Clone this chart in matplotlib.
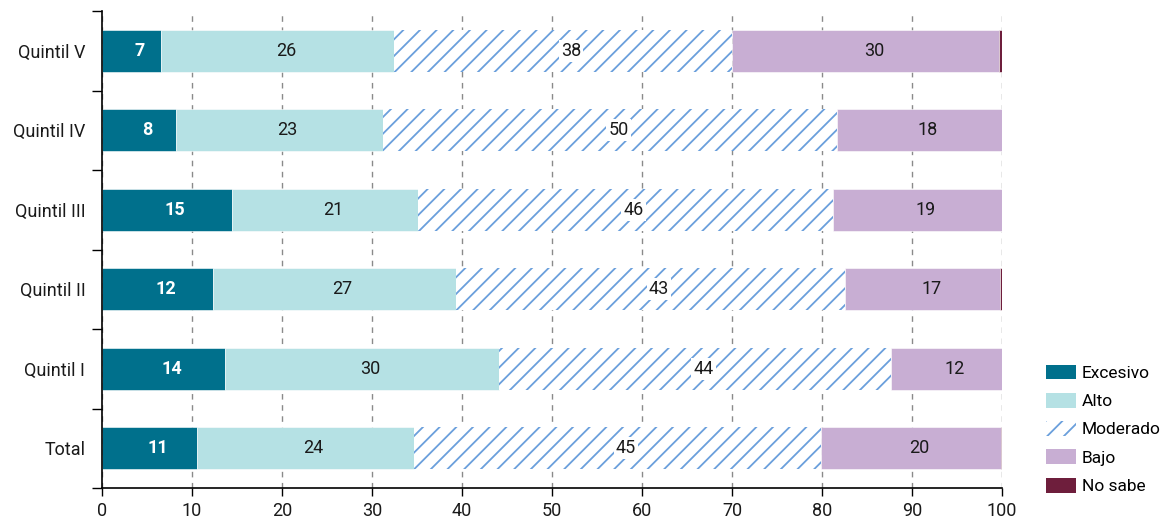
import matplotlib
matplotlib.use("Agg")
import matplotlib.pyplot as plt
import numpy as np
from matplotlib.patches import Patch

plt.rcParams['font.family'] = ['Roboto', 'DejaVu Sans']
plt.rcParams['hatch.linewidth'] = 1.3

categories = ["Total", "Quintil I", "Quintil II", "Quintil III", "Quintil IV", "Quintil V"]
series_names = ["Excesivo", "Alto", "Moderado", "Bajo", "No sabe"]
excesivo = [10.5, 13.7, 12.3, 14.4, 8.2, 6.6]
alto = [24.2, 30.4, 27.0, 20.7, 23.0, 25.8]
moderado = [45.2, 43.6, 43.3, 46.1, 50.5, 37.6]
bajo = [20.0, 12.3, 17.2, 18.8, 18.3, 29.7]
no_sabe = [0.2, 0.0, 0.2, 0.0, 0.0, 0.3]
labels_excesivo = ["11", "14", "12", "15", "8", "7"]
labels_alto = ["24", "30", "27", "21", "23", "26"]
labels_moderado = ["45", "44", "43", "46", "50", "38"]
labels_bajo = ["20", "12", "17", "19", "18", "30"]
x_ticks = list(range(0, 101, 10))

colors = {"Excesivo": "#00708c", "Alto": "#b5e1e4", "Moderado": "#6a9fdc",
          "Bajo": "#c8aed3", "No sabe": "#6e1e3c"}

fig = plt.figure(figsize=(11.66, 5.21), dpi=100)
ax = fig.add_axes([102/1166, 1-488/521, 900/1166, 477/521])

y = np.arange(len(categories))
h = 0.53
data = [excesivo, alto, moderado, bajo, no_sabe]
labels = [labels_excesivo, labels_alto, labels_moderado, labels_bajo, None]
left = np.zeros(len(categories))
for name, vals, labs in zip(series_names, data, labels):
    vals = np.array(vals)
    if name == "Moderado":
        ax.barh(y, vals, left=left, height=h, color="white",
                edgecolor=colors[name], hatch="//", linewidth=0, zorder=2)
    else:
        ax.barh(y, vals, left=left, height=h, color=colors[name],
                edgecolor="white", linewidth=0.4, zorder=2)
    if labs is not None:
        for yi, l, v, lab in zip(y, left, vals, labs):
            cx = l + v / 2
            if name == "Excesivo":
                ax.annotate(lab, (cx, yi), xytext=(6, 0), textcoords="offset points",
                            ha="center", va="center", color="white", fontsize=13,
                            fontweight="bold", zorder=4)
            elif name == "Moderado":
                ax.annotate(lab, (cx, yi), xytext=(6, 0), textcoords="offset points",
                            ha="center", va="center", color="#1a1a1a", fontsize=13,
                            zorder=4, bbox=dict(boxstyle="square,pad=0.12", fc="white", ec="none"))
            else:
                ax.annotate(lab, (cx, yi), xytext=(6, 0), textcoords="offset points",
                            ha="center", va="center", color="#1a1a1a", fontsize=13, zorder=4)
    left = left + vals

ax.set_xlim(0, 100)
ax.set_ylim(-0.5, len(categories) - 0.5)
ax.set_xticks(x_ticks)
ax.set_xticklabels([str(t) for t in x_ticks], fontsize=13, color="#1a1a1a")
ax.set_yticks(y)
ax.set_yticklabels(categories, fontsize=13, color="#1a1a1a")
ax.set_yticks(np.arange(-0.5, len(categories)), minor=True)
ax.tick_params(axis="y", which="major", length=0, pad=12)
ax.tick_params(axis="y", which="minor", length=7, width=1, direction="out")
ax.tick_params(axis="x", length=6, width=1, direction="out", pad=4)
ax.xaxis.grid(True, linestyle=(0, (4, 4)), color="#8a8a8a", linewidth=1, zorder=0)
ax.set_axisbelow(True)
for s in ["top", "right"]:
    ax.spines[s].set_visible(False)
for s in ["left", "bottom"]:
    ax.spines[s].set_linewidth(1.2)
    ax.spines[s].set_zorder(5)

handles = [Patch(facecolor=colors["Excesivo"], edgecolor="none", label="Excesivo"),
           Patch(facecolor=colors["Alto"], edgecolor="none", label="Alto"),
           Patch(facecolor="white", edgecolor=colors["Moderado"], hatch="//", linewidth=0, label="Moderado"),
           Patch(facecolor=colors["Bajo"], edgecolor="none", label="Bajo"),
           Patch(facecolor=colors["No sabe"], edgecolor="none", label="No sabe")]
fig.legend(handles=handles, loc="lower left", bbox_to_anchor=(1046/1166, 1-494/521),
           frameon=False, fontsize=12.5, handlelength=1.75, handleheight=0.95,
           labelspacing=0.68, handletextpad=0.3, borderaxespad=0, borderpad=0)

fig.savefig("out.png", dpi=100)
